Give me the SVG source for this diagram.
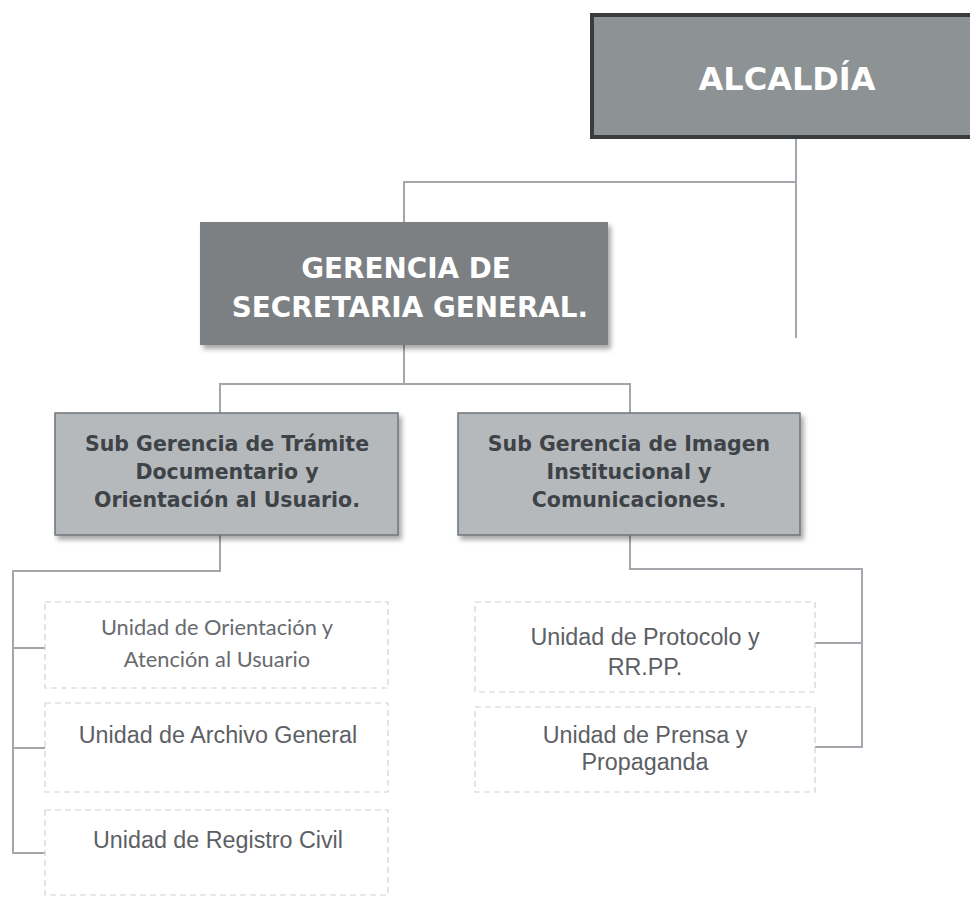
<svg xmlns="http://www.w3.org/2000/svg" width="970" height="897" viewBox="0 0 970 897">
<defs>
<filter id="sh" x="-10%" y="-10%" width="130%" height="140%">
<feDropShadow dx="3" dy="4" stdDeviation="2.5" flood-color="#000" flood-opacity="0.35"/>
</filter>
<style>
.conn{fill:none;stroke:#a3a7ab;stroke-width:2}
.hd{font-family:"DejaVu Sans",sans-serif;font-weight:bold;text-anchor:middle}
.wh{fill:#ffffff}
.dk{fill:#3e4348}
.dash{fill:#ffffff;stroke:#d0d2d4;stroke-width:1.2;stroke-dasharray:6 4}
.ar{font-family:"Liberation Sans",Arial,sans-serif;font-size:23.3px;fill:#5c6064;text-anchor:middle}
.ca{font-family:Lato,"Liberation Sans",sans-serif;font-size:21.8px;fill:#676b6f;text-anchor:middle}
</style>
</defs>
<rect width="970" height="897" fill="#ffffff"/>
<g id="connectors">
<path class="conn" d="M796 137 V338 M796 182 H404 V222"/>
<path class="conn" d="M404 345 V384 M220 413 V384 H630 V413"/>
<path class="conn" d="M220 535 V571 H13 V853 H45 M13 648 H45 M13 748 H45"/>
<path class="conn" d="M630 535 V569 H862 V747 H815 M862 643 H815"/>
</g>
<g id="alcaldia">
<rect x="592" y="15" width="400" height="122" fill="#8d9294" stroke="#393c3e" stroke-width="4"/>
<text class="hd wh" x="787" y="90" font-size="32">ALCALDÍA</text>
</g>
<g id="gerencia">
<rect x="200" y="222" width="408" height="123" fill="#7c8083" filter="url(#sh)"/>
<text class="hd wh" x="406" y="278" font-size="27.8">GERENCIA DE</text>
<text class="hd wh" x="410" y="317" font-size="27.8">SECRETARIA GENERAL.</text>
</g>
<g id="subgerencia-tramite">
<rect x="55" y="413" width="343" height="122" fill="#b5b9bc" stroke="#707478" stroke-width="1.5" filter="url(#sh)"/>
<text class="hd dk" x="227" y="451" font-size="20.5">Sub Gerencia de Trámite</text>
<text class="hd dk" x="227" y="479" font-size="20.5">Documentario y</text>
<text class="hd dk" x="227" y="507" font-size="20.5">Orientación al Usuario.</text>
</g>
<g id="subgerencia-imagen">
<rect x="458" y="413" width="342" height="122" fill="#b5b9bc" stroke="#707478" stroke-width="1.5" filter="url(#sh)"/>
<text class="hd dk" x="629" y="451" font-size="20.5">Sub Gerencia de Imagen</text>
<text class="hd dk" x="629" y="479" font-size="20.5">Institucional y</text>
<text class="hd dk" x="629" y="507" font-size="20.5">Comunicaciones.</text>
</g>
<g id="unidad-orientacion">
<rect class="dash" x="45" y="602" width="343" height="86"/>
<text class="ca" x="217" y="635">Unidad de Orientación y</text>
<text class="ca" x="217" y="667">Atención al Usuario</text>
</g>
<g id="unidad-archivo">
<rect class="dash" x="45" y="703" width="343" height="89"/>
<text class="ar" x="218" y="743">Unidad de Archivo General</text>
</g>
<g id="unidad-registro">
<rect class="dash" x="45" y="810" width="343" height="85"/>
<text class="ar" x="218" y="848">Unidad de Registro Civil</text>
</g>
<g id="unidad-protocolo">
<rect class="dash" x="475" y="602" width="340" height="90"/>
<text class="ar" x="645" y="645">Unidad de Protocolo y</text>
<text class="ar" x="645" y="675">RR.PP.</text>
</g>
<g id="unidad-prensa">
<rect class="dash" x="475" y="707" width="340" height="85"/>
<text class="ar" x="645" y="743">Unidad de Prensa y</text>
<text class="ar" x="645" y="770">Propaganda</text>
</g>
</svg>
